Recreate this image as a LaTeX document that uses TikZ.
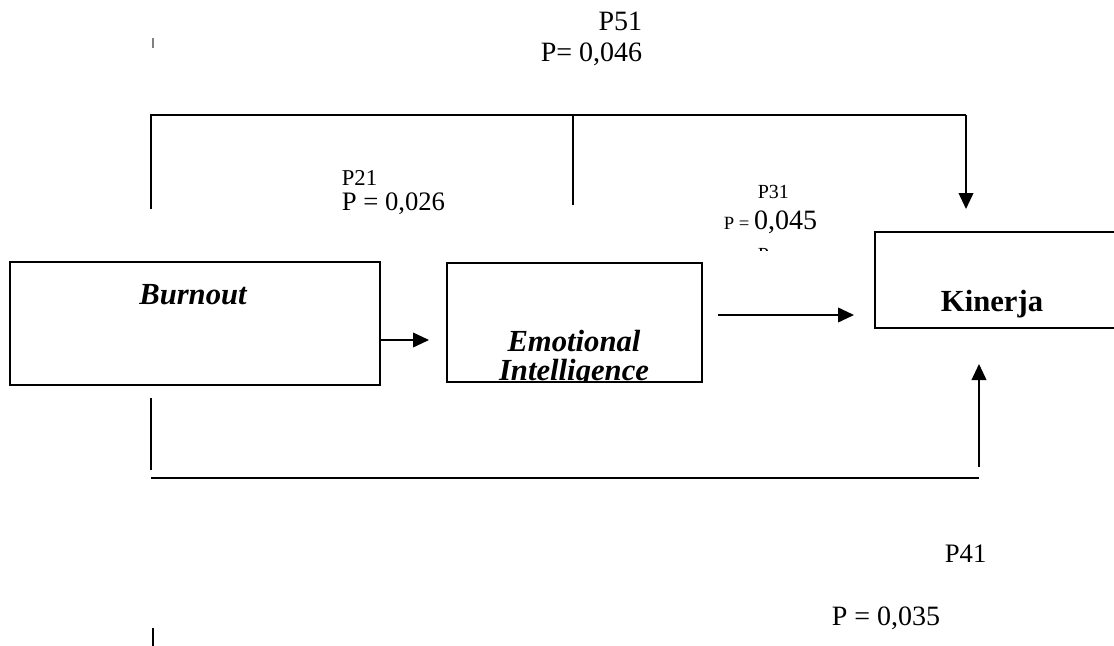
\documentclass[tikz,border=0pt]{standalone}
\usepackage{fontspec}
\setmainfont{Liberation Serif}
\usetikzlibrary{arrows.meta, positioning, calc}

\begin{document}
\begin{tikzpicture}[
    x=0.75pt, y=-0.75pt,
    line width=1.3pt,
    every node/.style={inner sep=0pt, align=center},
    box/.style={rectangle, draw, line width=1.2pt},
    varname/.style={font=\fontsize{23}{21.5}\selectfont\bfseries\itshape},
    pvalue/.style={font=\fontsize{20}{22}\selectfont, anchor=base west},
    arr/.style={-{Triangle[length=12pt, width=11pt]}}
]

\useasboundingbox (0,0) rectangle (1114,646);

% texts of the paths
\node (p51) [pvalue, font=\fontsize{21}{23}\selectfont, anchor=base east] at (643,30) {P51};
\node (p51val) [pvalue, font=\fontsize{21}{23}\selectfont, anchor=base east] at (643,61) {P= 0,046};
\node (p21) [pvalue, font=\fontsize{17}{19}\selectfont] at (341,185) {P21};
\node (p21val) [pvalue] at (341,210) {P = 0,026};
\node (p31) [pvalue, font=\fontsize{15}{17}\selectfont] at (757,198) {P31};
\node (p31val) [pvalue] at (723,229) {\fontsize{14}{16}\selectfont P = \fontsize{21}{23}\selectfont 0,045};
\begin{scope}
  \clip (700,242) rectangle (850,250);
  \node (p31rest) [pvalue, font=\fontsize{15}{17}\selectfont] at (757,261) {P};
\end{scope}
\node (p41) [pvalue] at (944,562) {P41};
\node (p41val) [pvalue, font=\fontsize{21}{23}\selectfont] at (831,625) {P = 0,035};

% the three variables
\node (burnout) [box, minimum width=277.5pt, minimum height=92.25pt] at (195,323.5) {};
\node (burnouttxt) [varname] at (193,295) {Burnout};
\begin{scope}
  \clip (447,263) rectangle (702,382);
  \node (eitxt) [varname, anchor=base] at (574,380) {Emotional\\Intelligence};
\end{scope}
\node (ei) [box, minimum width=191.25pt, minimum height=89.25pt] at (574.5,322.5) {};
\node (kinerja) [box, minimum width=198.75pt, minimum height=72pt] at (1007.5,280) {};
\node (kinerjatxt) [font=\fontsize{23}{26}\selectfont\bfseries] at (992,304) {Kinerja};

% free ends of the paths
\coordinate (topleft) at (151,209);
\coordinate (topmid) at (573,205);
\coordinate (topend) at (966,209);
\coordinate (bottomleft) at (151,398);
\coordinate (bottomend) at (979,364);

\draw (topleft) -- (topleft |- 0,115) -- (topend |- 0,115);
\draw[arr] (topend |- 0,115) -- (topend);
\draw (topmid) -- (topmid |- 0,115);
\draw[arr] (burnout.east |- 0,340) -- (429,340);
\draw[arr] (718,315) -- (854,315);
\draw (bottomleft) -- (151,470);
\draw (151,478) -- (979,478);
\draw[arr] (979,467) -- (bottomend);

% stray marks
\draw[line width=0.8pt, gray] (153,38) -- (153,48);
\draw[line width=1.1pt] (153,628) -- (153,646);

\end{tikzpicture}
\end{document}
